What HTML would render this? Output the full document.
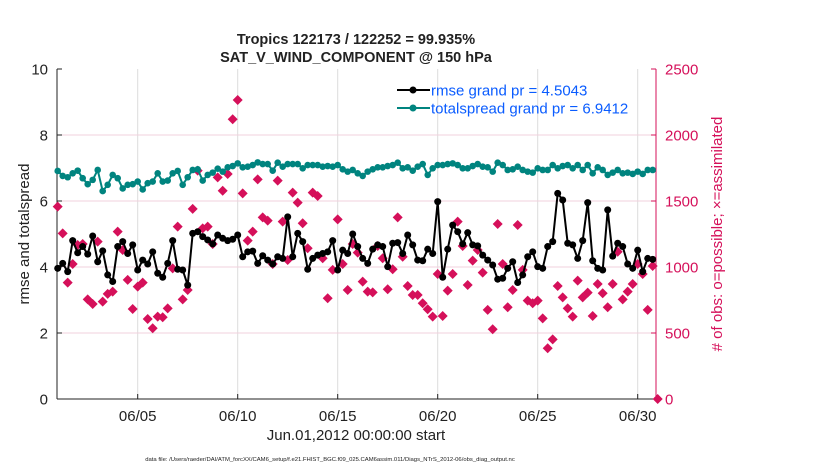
<!DOCTYPE html>
<html><head><meta charset="utf-8"><style>
body{margin:0;background:#fff;}
svg text{font-family:"Liberation Sans",Arial,sans-serif;}
</style></head><body>
<svg id="chart" width="830" height="470">
<g id="grid"></g>
<g id="axes"></g>
<g id="marks"></g>
<text x="356" y="44" text-anchor="middle" font-size="14.5" font-weight="bold" fill="#222">Tropics 122173 / 122252 = 99.935%</text>
<text x="356" y="62" text-anchor="middle" font-size="14.5" font-weight="bold" fill="#222">SAT_V_WIND_COMPONENT @ 150 hPa</text>
<text transform="translate(29,234) rotate(-90)" text-anchor="middle" font-size="15" fill="#222">rmse and totalspread</text>
<text transform="translate(722,234) rotate(-90)" text-anchor="middle" font-size="15" fill="#d5105a"># of obs: o=possible; ×=assimilated</text>
<text x="356" y="440" text-anchor="middle" font-size="15" fill="#222">Jun.01,2012 00:00:00 start</text>
<text x="330" y="461" text-anchor="middle" font-size="5.9" fill="#222">data file: /Users/raeder/DAI/ATM_forcXX/CAM6_setup/f.e21.FHIST_BGC.f09_025.CAM6assim.011/Diags_NTrS_2012-06/obs_diag_output.nc</text>
<g>
<line x1="397" y1="90" x2="430" y2="90" stroke="#000" stroke-width="2"/><circle cx="413" cy="90" r="3.5" fill="#000"/>
<text x="431" y="95.5" font-size="15" fill="#0a5cff">rmse grand pr = 4.5043</text>
<line x1="397" y1="108" x2="430" y2="108" stroke="#00847f" stroke-width="2"/><circle cx="413" cy="108" r="3.5" fill="#00847f"/>
<text x="431" y="113.5" font-size="15" fill="#0a5cff">totalspread grand pr = 6.9412</text>
</g>
</svg>
<script>
const dateLabels=["06/05","06/10","06/15","06/20","06/25","06/30"];
const dateDays=[5,10,15,20,25,30];
const leftTicks=[0,2,4,6,8,10];
const rightTicks=[0,500,1000,1500,2000,2500];
const totalspread=[6.91,6.76,6.72,6.84,6.92,6.69,6.51,6.64,6.94,6.30,6.49,6.79,6.69,6.38,6.49,6.51,6.59,6.35,6.54,6.59,6.84,6.59,6.62,6.84,6.91,6.49,6.72,6.94,6.96,6.62,6.79,6.86,6.98,6.89,7.02,7.06,7.14,7.02,7.04,7.09,7.17,7.12,7.12,6.92,7.16,7.04,7.12,7.12,7.12,6.99,7.09,7.09,7.09,7.04,7.06,7.04,7.09,6.96,6.89,6.94,
6.84,6.76,6.89,6.96,7.02,7.02,7.06,7.09,7.16,6.99,7.02,6.92,7.04,7.12,6.79,6.99,7.09,7.09,7.12,7.14,7.09,6.99,6.99,7.06,7.12,7.04,7.02,6.89,7.16,7.09,6.94,6.96,7.04,6.94,6.89,6.86,6.99,6.94,6.94,7.09,6.99,7.06,7.09,6.99,7.09,6.94,7.09,6.84,7.02,6.94,6.79,6.86,6.94,6.84,6.86,6.82,6.89,6.82,6.94,6.94];
const rmse=[3.96,4.11,3.86,4.80,4.43,4.62,4.39,4.94,4.16,4.49,3.76,3.56,4.62,4.77,4.41,4.67,3.91,4.21,4.09,4.46,3.81,3.69,4.11,4.80,3.93,3.91,3.45,5.02,5.07,4.92,4.82,4.70,4.97,4.87,4.80,4.84,4.97,4.31,4.46,4.48,4.11,4.34,4.21,4.09,4.31,4.26,5.52,4.31,5.02,4.77,3.93,4.26,4.36,4.41,4.46,4.80,3.91,4.51,4.41,5.00,
4.62,4.26,4.11,4.54,4.67,4.62,4.01,4.72,4.74,4.41,4.97,4.67,4.21,4.19,4.54,4.41,5.98,3.69,4.54,5.27,5.07,4.70,5.04,4.67,4.64,4.36,4.21,4.06,3.63,3.66,3.96,4.16,3.53,3.76,4.31,4.46,4.01,3.96,4.62,4.77,6.23,6.03,4.72,4.67,4.26,4.80,5.95,4.19,3.96,3.91,5.73,4.33,4.72,4.62,4.09,3.96,4.51,3.86,4.26,4.23];
const obsCount=[1457,1255,882,1023,1167,1174,755,720,1192,738,796,813,1268,1129,902,682,851,882,606,536,624,619,687,990,1306,755,826,1440,1730,1293,1306,1174,1679,1578,1705,2119,2265,1558,1200,1268,1664,1376,1351,1023,1654,1344,1053,1563,1488,1331,1142,1563,1538,1066,763,978,1361,1023,826,1174,
1109,889,813,808,1159,1066,831,983,1376,1078,856,788,788,725,680,624,947,629,821,947,1344,1159,864,1048,1129,957,675,528,1326,1023,695,826,1318,978,745,725,745,611,384,452,856,770,687,624,897,770,806,629,871,801,695,871,1116,755,813,871,1023,947,675,1008,0];
const NS="http://www.w3.org/2000/svg";
const X0=57.7,DX=20,YB=399,YT=69;
function xDay(d){return X0+(d-1)*DX;}
function xIdx(i){return X0+i*DX/4;}
function yL(v){return YB-(v/10)*(YB-YT);}
function yR(v){return YB-(v/2500)*(YB-YT);}
function mk(tag,attrs,parent){const e=document.createElementNS(NS,tag);for(const k in attrs)e.setAttribute(k,attrs[k]);parent.appendChild(e);return e;}
const grid=document.getElementById('grid'),axes=document.getElementById('axes'),marks=document.getElementById('marks');
const L=57,R=656;
dateDays.forEach((d,i)=>{const x=xDay(d);
 const g=mk('line',{x1:x,x2:x,y1:YT,y2:YB,stroke:'#dcdcdc','stroke-width':1},grid);
 
 
 const tk=mk('line',{x1:x,x2:x,y1:YB,y2:YB-5,stroke:'#222'},axes);
 
 
 const t=mk('text',{x:x,y:YB+22,'text-anchor':'middle','font-size':15,fill:'#222'},axes);t.textContent=dateLabels[i];
 
 
});
leftTicks.forEach(v=>{const y=yL(v);
 if(v>0&&v<10){const g=mk('line',{x1:L,x2:R,y1:y,y2:y,stroke:'#f0d0dc','stroke-width':1},grid);
 
 }
 const tk=mk('line',{x1:L,x2:L+5,y1:y,y2:y,stroke:'#222'},axes);
 
 
 const t=mk('text',{x:L-9,y:y+5.5,'text-anchor':'end','font-size':15,fill:'#222'},axes);t.textContent=v;
 
 
});
rightTicks.forEach(v=>{const y=yR(v);
 const tk=mk('line',{x1:R-5,x2:R,y1:y,y2:y,stroke:'#d5105a'},axes);
 
 
 const t=mk('text',{x:R+9,y:y+5.5,'font-size':15,fill:'#d5105a'},axes);t.textContent=v;
 
 
});
const la=mk('line',{x1:L,x2:L,y1:YT,y2:YB,stroke:'#222'},axes);


const ba=mk('line',{x1:L,x2:R,y1:YB,y2:YB,stroke:'#222'},axes);


const ra=mk('line',{x1:R,x2:R,y1:YT,y2:YB,stroke:'#d5105a'},axes);


obsCount.forEach((v,i)=>{const x=xIdx(i),y=yR(v);
 const p=mk('polygon',{points:`${x},${y-5} ${x+5},${y} ${x},${y+5} ${x-5},${y}`,fill:'#d5105a'},marks);
 
 
});
function series(arr,color,r,name){
 const pl=mk('polyline',{points:arr.map((v,i)=>xIdx(i)+','+yL(v)).join(' '),fill:'none',stroke:color,'stroke-width':2},marks);
 
 
 arr.forEach((v,i)=>{const c=mk('circle',{cx:xIdx(i),cy:yL(v),r:r,fill:color},marks);
  
  });
}
series(totalspread,'#00847f',3.3,'totalspread');
series(rmse,'#000',3.5,'rmse');
</script>
</body></html>
